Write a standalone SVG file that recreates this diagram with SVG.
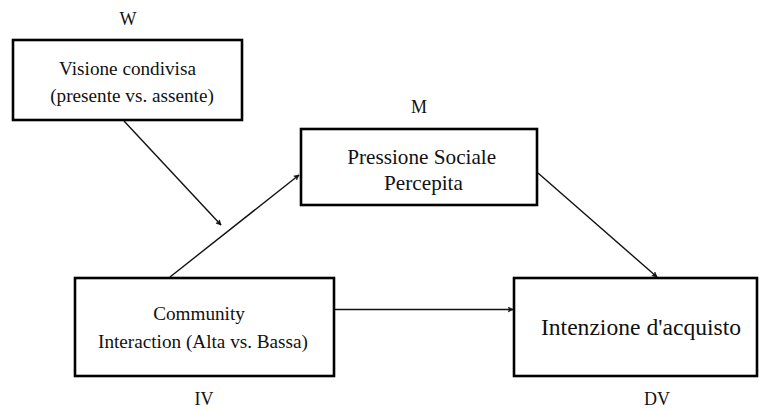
<svg xmlns="http://www.w3.org/2000/svg" width="762" height="410" viewBox="0 0 762 410">
<style>
.box{fill:#fff;stroke:#000;stroke-width:2.6}
.t{font-family:'Liberation Serif','DejaVu Serif',serif;font-size:19.2px;fill:#111;text-anchor:middle}
.lb{font-size:18px}
.mid{font-size:21.2px}
.big{font-size:23.6px}
.c{stroke:#111;stroke-width:1.4;fill:none;marker-end:url(#ah)}
</style>
<defs>
<marker id="ah" viewBox="0 0 10 10" refX="9" refY="5" markerWidth="6" markerHeight="6" markerUnits="userSpaceOnUse" orient="auto">
<path d="M1,1 L9,5 L1,9 L3,5 Z" fill="#111" stroke="#111" stroke-width="1"/>
</marker>
</defs>
<rect width="762" height="410" fill="#fff"/>
<g id="connectors">
<line class="c" x1="124" y1="121" x2="221" y2="225"/>
<line class="c" x1="170" y1="277" x2="299" y2="175"/>
<line class="c" x1="538" y1="173" x2="657" y2="277"/>
<line class="c" x1="335" y1="309.5" x2="513" y2="309.5"/>
</g>
<g id="W">
<rect class="box" x="13" y="40" width="229" height="80"/>
<text class="t lb" x="128" y="25">W</text>
<text class="t" x="127.5" y="75">Visione condivisa</text>
<text class="t" x="132" y="102">(presente vs. assente)</text>
</g>
<g id="M">
<rect class="box" x="301" y="129" width="236" height="76"/>
<text class="t lb" x="419" y="113">M</text>
<text class="t mid" x="421.7" y="164">Pressione Sociale</text>
<text class="t mid" x="423.5" y="190">Percepita</text>
</g>
<g id="IV">
<rect class="box" x="75" y="278" width="259" height="98"/>
<text class="t" x="199" y="320">Community</text>
<text class="t" x="203" y="348">Interaction (Alta vs. Bassa)</text>
<text class="t lb" x="204" y="405">IV</text>
</g>
<g id="DV">
<rect class="box" x="514" y="278" width="243" height="98"/>
<text class="t big" x="641" y="335">Intenzione d'acquisto</text>
<text class="t lb" x="657" y="405">DV</text>
</g>
</svg>
